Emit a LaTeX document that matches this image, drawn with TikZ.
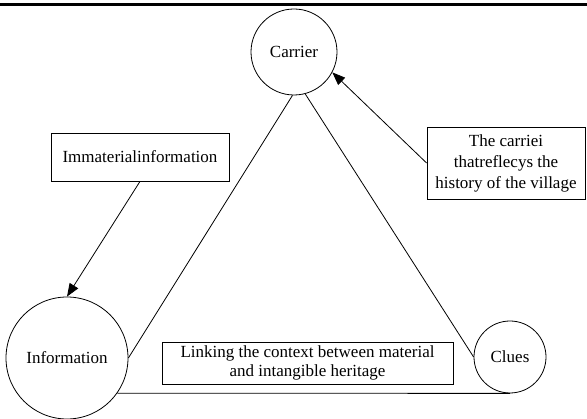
\documentclass[tikz,border=0pt]{standalone}
\usepackage{fontspec}
\setmainfont{Liberation Serif}
\usetikzlibrary{arrows.meta}
\begin{document}
\begin{tikzpicture}[x=1pt,y=-1pt,
  every node/.style={font=\fontsize{17}{20.5}\selectfont, inner sep=0pt, align=center},
  circ/.style={draw, circle, line width=0.8pt},
  box/.style={draw, rectangle, line width=0.8pt},
  conn/.style={line width=0.8pt},
  arr/.style={line width=0.8pt, -{Triangle[length=13pt,width=10pt]}}]
\useasboundingbox (0,0) rectangle (587,419);
\coordinate (rl) at (0,4.5);
\coordinate (rr) at (587,4.5);
\draw[line width=2.5pt] (rl) -- (rr);
\node[circ, minimum size=86pt] (car) at (294,52) {Carrier};
\node[circ, minimum size=122pt] (info) at (67,358) {Information};
\node[circ, minimum size=72pt] (clues) at (510,357) {Clues};
\node[box, minimum width=178pt, minimum height=48pt] (imm) at (140,157) {Immaterialinformation};
\node[box, minimum width=158pt, minimum height=72pt, font=\fontsize{17}{21}\selectfont] (carb) at (506,163) {The carriei\\thatreflecys the\\history of the village};
\node[box, minimum width=291pt, minimum height=42pt, font=\fontsize{17}{18.5}\selectfont] (link) at (307.5,363) {Linking the context between material\\and intangible heritage};
\draw[arr] (imm.south) -- (info.north);
\draw[arr] (carb.west) -- (car.-28);
\draw[conn] (car.-92) -- (info.east);
\draw[conn] (car.-75) -- (clues.west);
\draw[conn] (info.-35) -- (clues.south);
\end{tikzpicture}
\end{document}
